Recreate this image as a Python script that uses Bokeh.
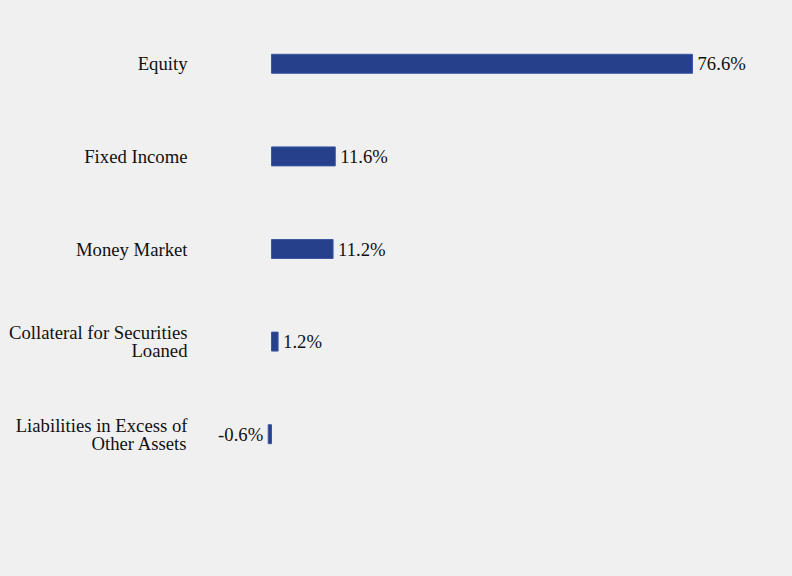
from bokeh.plotting import figure
from bokeh.models import ColumnDataSource, FactorRange, Range1d
from bokeh.core.properties import value
from bokeh.embed import file_html
from bokeh.resources import INLINE

# asset classes, top to bottom
categories = ["Equity", "Fixed Income", "Money Market",
              "Collateral for Securities\nLoaned",
              "Liabilities in Excess of\nOther Assets"]
percents = [76.6, 11.6, 11.2, 1.2, -0.6]
labels = ["76.6%", "11.6%", "11.2%", "1.2%", "-0.6%"]

FONT = "Liberation Serif"
BG = "#f0f0f0"
BLUE = "#26408b"

src = ColumnDataSource(data=dict(
    cat=categories,
    val=percents,
    lab=labels,
    zero=[0] * len(percents),
    align=["left" if v >= 0 else "right" for v in percents],
    off=[5 if v >= 0 else -5 for v in percents],
))

p = figure(width=792, height=576, output_backend="svg", toolbar_location=None,
           y_range=FactorRange(*reversed(categories), range_padding=0),
           x_range=Range1d(-13.83, 91.88),
           min_border_left=195, min_border_right=16,
           min_border_top=17, min_border_bottom=96)

p.hbar(y="cat", left="zero", right="val", height=0.205, source=src,
       fill_color=BLUE, line_color="#3d58a3", line_width=1)

p.text(x="val", y="cat", text="lab", source=src, x_offset="off",
       text_align="align", text_baseline="middle",
       text_font=value(FONT), text_font_size="18.7px", text_color="#111111")

# page background shows through (avoids a seam round the frame)
p.background_fill_color = None
p.border_fill_color = None
p.outline_line_color = None
p.grid.grid_line_color = None
p.xaxis.visible = False

p.yaxis.axis_line_color = None
p.yaxis.major_tick_line_color = None
p.yaxis.minor_tick_line_color = None
p.yaxis.major_tick_out = 0
p.yaxis.major_label_standoff = 8
p.yaxis.major_label_text_font = FONT
p.yaxis.major_label_text_font_size = "18.7px"
p.yaxis.major_label_text_color = "#111111"
p.yaxis.major_label_text_line_height = 0.85

html = file_html(p, INLINE)
html = html.replace("</head>", "<style>html, body {background: %s;}</style>\n</head>" % BG, 1)
open("out.html", "w").write(html)
